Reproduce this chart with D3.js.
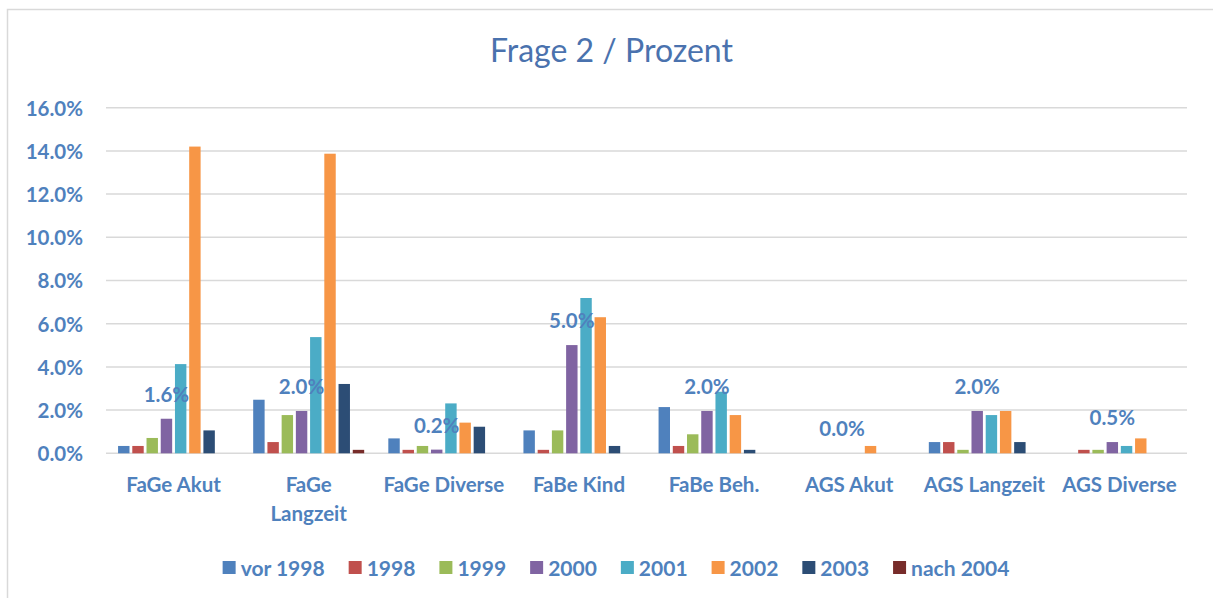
<!DOCTYPE html>
<html>
<head>
<meta charset="utf-8">
<script src="https://cdn.jsdelivr.net/npm/d3@7"></script>
<style>
  body { margin: 0; background: #fff; }
  text { font-family: Lato, "Open Sans", sans-serif; }
</style>
</head>
<body>
<script>
var categories = ["FaGe Akut", "FaGe Langzeit", "FaGe Diverse", "FaBe Kind", "FaBe Beh.", "AGS Akut", "AGS Langzeit", "AGS Diverse"];
var series = ["vor 1998", "1998", "1999", "2000", "2001", "2002", "2003", "nach 2004"];
var colors = ["#4F81BD", "#C0504D", "#9BBB59", "#8064A2", "#4BACC6", "#F79646", "#2C4D75", "#772C2A"];

// percent values, one array per series, in category order
var vor1998  = [0.34, 2.48, 0.69, 1.06, 2.14, 0, 0.52, 0];
var y1998    = [0.34, 0.52, 0.16, 0.16, 0.34, 0, 0.52, 0.16];
var y1999    = [0.71, 1.77, 0.34, 1.06, 0.88, 0, 0.16, 0.16];
var y2000    = [1.60, 1.96, 0.17, 5.01, 1.96, 0, 1.96, 0.52];
var y2001    = [4.13, 5.38, 2.31, 7.19, 2.85, 0, 1.77, 0.34];
var y2002    = [14.2, 13.87, 1.42, 6.30, 1.77, 0.34, 1.96, 0.69];
var y2003    = [1.06, 3.21, 1.23, 0.34, 0.16, 0, 0.52, 0];
var nach2004 = [0, 0.16, 0, 0, 0, 0, 0, 0];
var allValues = [vor1998, y1998, y1999, y2000, y2001, y2002, y2003, nach2004];

var yTicks = [0, 2, 4, 6, 8, 10, 12, 14, 16];
var labelSeries = "2000";

var W = 1213, H = 598;
var blue = "#4F81BD";
var plot = {left: 106, right: 1187, top: 107.7, bottom: 453.3};

var svg = d3.select("body").append("svg")
    .attr("width", W)
    .attr("height", H);

// chart border
svg.append("path")
   .attr("d", "M7.5," + H + "V9.5H" + W)
   .attr("fill", "none")
   .attr("stroke", "#d9d9d9")
   .attr("stroke-width", 1.5);

svg.append("text")
   .attr("x", 611.5)
   .attr("y", 62)
   .attr("text-anchor", "middle")
   .attr("fill", "#4A72AE")
   .style("font-size", "32px")
   .text("Frage 2 / Prozent");

var x0 = d3.scaleBand()
    .domain(categories)
    .range([plot.left, plot.right])
    .paddingInner(0)
    .paddingOuter(0);

var x1 = d3.scaleBand()
    .domain(series)
    .range([0, x0.bandwidth()])
    .paddingInner(0)
    .paddingOuter(0.75);

var y = d3.scaleLinear()
    .domain([0, 16])
    .range([plot.bottom, plot.top]);

// gridlines
svg.append("g").selectAll("line")
   .data(yTicks)
   .enter()
   .append("line")
   .attr("x1", plot.left)
   .attr("x2", plot.right)
   .attr("y1", function(d){ return y(d); })
   .attr("y2", function(d){ return y(d); })
   .attr("stroke", "#d9d9d9")
   .attr("stroke-width", 1.5);

// y axis labels
var yAxis = d3.axisLeft(y)
    .tickValues(yTicks)
    .tickFormat(function(d){ return d.toFixed(1) + "%"; })
    .tickSize(0)
    .tickPadding(0);
var gy = svg.append("g")
   .attr("transform", "translate(83,0)")
   .call(yAxis);
gy.select(".domain").remove();
gy.selectAll("text")
  .attr("fill", blue)
  .attr("dy", "0.36em")
  .style("font-size", "20.5px")
  .style("font-weight", "bold")
  .style("font-family", "Lato, sans-serif");

// bars
var rows = [];
categories.forEach(function(c, i){
  series.forEach(function(s, j){
    rows.push({cat: c, ser: s, val: allValues[j][i], color: colors[j]});
  });
});

var inset = 1.4;
svg.append("g").selectAll("rect")
   .data(rows)
   .enter()
   .append("rect")
   .attr("x", function(d){ return x0(d.cat) + x1(d.ser) + inset; })
   .attr("y", function(d){ return y(d.val); })
   .attr("width", x1.bandwidth() - 2 * inset)
   .attr("height", function(d){ return y(0) - y(d.val); })
   .attr("fill", function(d){ return d.color; });

// category labels
var xAxis = d3.axisBottom(x0).tickSize(0).tickPadding(0);
var gx = svg.append("g")
   .call(xAxis);
gx.select(".domain").remove();
gx.selectAll("text").remove();
gx.selectAll(".tick").each(function(d){
  var t = d3.select(this).append("text")
     .attr("text-anchor", "middle")
     .attr("fill", blue)
     .style("font-size", "20.5px")
     .style("font-weight", "bold");
  var lines = d === "FaGe Langzeit" ? ["FaGe", "Langzeit"] : [d];
  lines.forEach(function(l, k){
    t.append("tspan").attr("x", 0).attr("y", 492 + k * 29).text(l);
  });
});

// data labels for the 2000 series
var labelRows = rows.filter(function(d){ return d.ser === labelSeries; });
svg.append("g").selectAll("text")
   .data(labelRows)
   .enter()
   .append("text")
   .attr("x", function(d){ return x0(d.cat) + x1(d.ser) + x1.bandwidth() / 2; })
   .attr("y", function(d){ return y(d.val) - 17; })
   .attr("text-anchor", "middle")
   .attr("fill", blue)
   .style("font-size", "20.5px")
   .style("font-weight", "bold")
   .text(function(d){ return d.val.toFixed(1) + "%"; });

// legend
var legend = svg.append("g");
var items = legend.selectAll("g")
   .data(series)
   .enter()
   .append("g");
items.append("rect")
   .attr("width", 13)
   .attr("height", 13)
   .attr("y", 561)
   .attr("fill", function(d, i){ return colors[i]; });
items.append("text")
   .attr("x", 18)
   .attr("y", 575.5)
   .attr("fill", blue)
   .style("font-size", "21px")
   .style("font-weight", "bold")
   .text(function(d){ return d; });
var gap = 24;
var pos = 0, offsets = [];
items.each(function(){
  offsets.push(pos);
  pos += 18 + this.querySelector("text").getComputedTextLength() + gap;
});
var total = pos - gap;
var start = 616 - total / 2;
items.attr("transform", function(d, i){ return "translate(" + (start + offsets[i]) + ",0)"; });
</script>
</body>
</html>
